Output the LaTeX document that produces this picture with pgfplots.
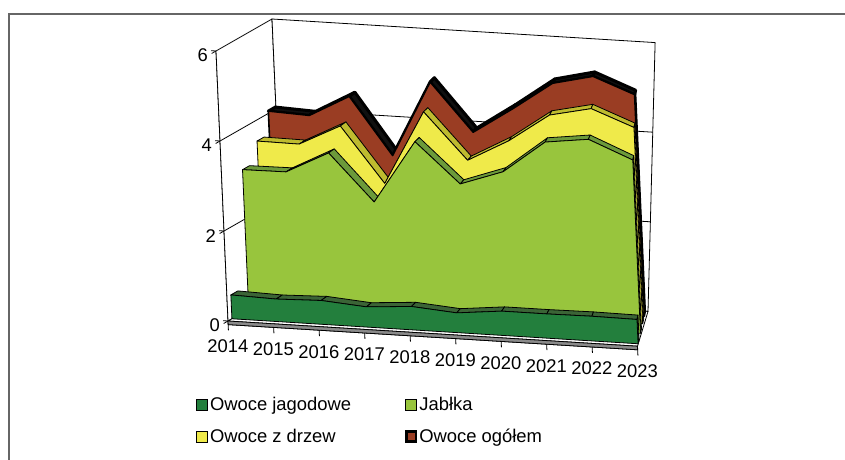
\documentclass[border=0pt]{standalone}
\usepackage{fontspec}
\setmainfont{Liberation Sans}
\usepackage{pgfplots}
\usepackage{pgfplotstable}
\pgfplotsset{compat=1.18}

\definecolor{jagF}{HTML}{237F3D}
\definecolor{jagT}{HTML}{3B6436}
\definecolor{jabF}{HTML}{98C53D}
\definecolor{jabT}{HTML}{6C9A3A}
\definecolor{drzF}{HTML}{EFEA4A}
\definecolor{drzT}{HTML}{BEBB2F}
\definecolor{ogoF}{HTML}{9A3D23}
\definecolor{ogoT}{HTML}{101010}
\definecolor{floorG}{HTML}{8A8A8A}
\definecolor{frameG}{HTML}{666666}

\pgfplotsset{
  colormap={cjag}{color=(jagT) color=(jagT)},
  colormap={cjab}{color=(jabT) color=(jabT)},
  colormap={cdrz}{color=(drzT) color=(drzT)},
  colormap={cogo}{color=(ogoT) color=(ogoT)},
}

% production, mln t (year index 0 = 2014)
\pgfplotstableread{
yr v
0 0.53
1 0.50
2 0.53
3 0.45
4 0.52
5 0.44
6 0.54
7 0.54
8 0.55
9 0.54
}\jagodowe
\pgfplotstableread{
yr v
0 3.10
1 3.11
2 3.59
3 2.56
4 3.96
5 3.08
6 3.41
7 4.13
8 4.25
9 3.85
}\jablka
\pgfplotstableread{
yr v
0 3.54
1 3.53
2 3.99
3 2.77
4 4.42
5 3.40
6 3.89
7 4.52
8 4.72
9 4.36
}\drzew
\pgfplotstableread{
yr v
0 4.05
1 4.01
2 4.49
3 3.23
4 4.92
5 3.86
6 4.44
7 5.06
8 5.27
9 4.92
}\ogolem

% two copies of each series: front and back edge of the ribbon top
\pgfplotstablevertcat{\jagodoweR}{\jagodowe}\pgfplotstablevertcat{\jagodoweR}{\jagodowe}
\pgfplotstablevertcat{\jablkaR}{\jablka}\pgfplotstablevertcat{\jablkaR}{\jablka}
\pgfplotstablevertcat{\drzewR}{\drzew}\pgfplotstablevertcat{\drzewR}{\drzew}
\pgfplotstablevertcat{\ogolemR}{\ogolem}\pgfplotstablevertcat{\ogolemR}{\ogolem}

\pgfplotstablegetelem{9}{v}\of\jagodowe\let\vA\pgfplotsretval
\pgfplotstablegetelem{9}{v}\of\jablka\let\vB\pgfplotsretval
\pgfplotstablegetelem{9}{v}\of\drzew\let\vC\pgfplotsretval
\pgfplotstablegetelem{9}{v}\of\ogolem\let\vD\pgfplotsretval

% depth rows and a mild foreshortening of the x extent with depth
\def\w{0.5}
\def\kfac{0.0293}
\def\dA{0.28}\def\dB{1.48}\def\dC{2.58}\def\dD{3.46}
\pgfmathsetmacro\rA{\dA+\w}\pgfmathsetmacro\rB{\dB+\w}
\pgfmathsetmacro\rC{\dC+\w}\pgfmathsetmacro\rD{\dD+\w}
\pgfmathsetmacro\kA{1-\kfac*\dA}\pgfmathsetmacro\kB{1-\kfac*\dB}
\pgfmathsetmacro\kC{1-\kfac*\dC}\pgfmathsetmacro\kD{1-\kfac*\dD}
\pgfmathsetmacro\eA{9*\kA}\pgfmathsetmacro\eB{9*\kB}
\pgfmathsetmacro\eC{9*\kC}\pgfmathsetmacro\eD{9*\kD}
\pgfmathsetmacro\fA{9*(1-\kfac*\rA)}\pgfmathsetmacro\fB{9*(1-\kfac*\rB)}
\pgfmathsetmacro\fC{9*(1-\kfac*\rC)}\pgfmathsetmacro\fD{9*(1-\kfac*\rD)}

\begin{document}
\begin{tikzpicture}
\useasboundingbox (0pt,0pt) rectangle (845pt,459pt);
\draw[frameG, line width=1.3pt] (9pt,-10pt) -- (9pt,445pt) -- (860pt,445pt);

\begin{axis}[
  at={(228pt,138pt)}, anchor=origin,
  x={(45.5pt,-2.8pt)}, y={(14pt,8pt)}, z={(-2pt,45pt)},
  xmin=0, xmax=9, ymin=0, ymax=4, zmin=-0.08, zmax=6,
  axis lines=left,
  axis line style={-, black, line width=0.8pt},
  y axis line style={draw=none},
  clip=false,
  xtick={0,1,2,3,4,5,6,7,8,9},
  xticklabels={2014,2015,2016,2017,2018,2019,2020,2021,2022,2023},
  ytick=\empty,
  ztick={0,2,4,6},
  tick align=outside,
  major tick length=5pt,
  tick style={black, line width=0.8pt},
  xtick style={draw=none},
  ticklabel style={font=\fontsize{18.4}{21}\selectfont},
  xticklabel style={anchor=north, yshift=-9pt, xshift=4pt},
  /pgf/number format/assume math mode=true,
  line join=round,
]
% walls and gridlines
\addplot3[forget plot, draw=black, fill=white, line width=0.8pt]
  coordinates {(0,0,0) (0,4,0) (0,4,6) (0,0,6)} -- cycle;
\addplot3[forget plot, draw=black, fill=white, line width=0.8pt]
  coordinates {(0,4,0) (8.0,4,0) (8.42,4,6) (0,4,6)} -- cycle;
\addplot3[forget plot, black, line width=0.8pt] coordinates {(0,0,2) (0,4,2) (8.14,4,2)};
\addplot3[forget plot, black, line width=0.8pt] coordinates {(0,0,4) (0,4,4) (8.28,4,4)};
\addplot3[forget plot, draw=black, fill=white, line width=0.8pt]
  coordinates {(0,0,0) (9,0,0) (8.0,4,0) (0,4,0)} -- cycle;

% Owoce ogolem
\addplot3[forget plot, surf, shader=faceted, faceted color=black, colormap name=cogo,
  line width=3pt, mesh/rows=2, mesh/cols=10]
  table[x expr={\thisrow{yr}*(1-\kfac*(\coordindex<10 ? \dD : \rD))},
        y expr={\coordindex<10 ? \dD : \rD}, z=v] {\ogolemR};
\addplot3[forget plot, fill=ogoT, draw=black, line width=1.2pt]
  coordinates {(\eD,\dD,0) (\eD,\dD,\vD) (\fD,\rD,\vD) (\fD,\rD,0)} -- cycle;
\addplot3[forget plot, fill=ogoF, draw=black, line width=1.6pt]
  table[x expr=\thisrow{yr}*\kD, y expr=\dD, z=v] {\ogolem}
  -- (axis cs:\eD,\dD,0) -- (axis cs:0,\dD,0) -- cycle;

% Owoce z drzew
\addplot3[forget plot, surf, shader=faceted, faceted color=black, colormap name=cdrz,
  line width=0.8pt, mesh/rows=2, mesh/cols=10]
  table[x expr={\thisrow{yr}*(1-\kfac*(\coordindex<10 ? \dC : \rC))},
        y expr={\coordindex<10 ? \dC : \rC}, z=v] {\drzewR};
\addplot3[forget plot, fill=drzT, draw=black, line width=0.8pt]
  coordinates {(\eC,\dC,0) (\eC,\dC,\vC) (\fC,\rC,\vC) (\fC,\rC,0)} -- cycle;
\addplot3[forget plot, fill=drzF, draw=black, line width=0.8pt]
  table[x expr=\thisrow{yr}*\kC, y expr=\dC, z=v] {\drzew}
  -- (axis cs:\eC,\dC,0) -- (axis cs:0,\dC,0) -- cycle;

% Jablka
\addplot3[forget plot, surf, shader=faceted, faceted color=black, colormap name=cjab,
  line width=0.8pt, mesh/rows=2, mesh/cols=10]
  table[x expr={\thisrow{yr}*(1-\kfac*(\coordindex<10 ? \dB : \rB))},
        y expr={\coordindex<10 ? \dB : \rB}, z=v] {\jablkaR};
\addplot3[forget plot, fill=jabT, draw=black, line width=0.8pt]
  coordinates {(\eB,\dB,0) (\eB,\dB,\vB) (\fB,\rB,\vB) (\fB,\rB,0)} -- cycle;
\addplot3[forget plot, fill=jabF, draw=black, line width=0.8pt]
  table[x expr=\thisrow{yr}*\kB, y expr=\dB, z=v] {\jablka}
  -- (axis cs:\eB,\dB,0) -- (axis cs:0,\dB,0) -- cycle;

% Owoce jagodowe
\addplot3[forget plot, surf, shader=faceted, faceted color=black, colormap name=cjag,
  line width=0.8pt, mesh/rows=2, mesh/cols=10]
  table[x expr={\thisrow{yr}*(1-\kfac*(\coordindex<10 ? \dA : \rA))},
        y expr={\coordindex<10 ? \dA : \rA}, z=v] {\jagodoweR};
\addplot3[forget plot, fill=jagT, draw=black, line width=0.8pt]
  coordinates {(\eA,\dA,0) (\eA,\dA,\vA) (\fA,\rA,\vA) (\fA,\rA,0)} -- cycle;
\addplot3[forget plot, fill=jagF, draw=black, line width=0.8pt]
  table[x expr=\thisrow{yr}*\kA, y expr=\dA, z=v] {\jagodowe}
  -- (axis cs:\eA,\dA,0) -- (axis cs:0,\dA,0) -- cycle;

% floor slab and category ticks
\addplot3[forget plot, fill=floorG, draw=black, line width=0.8pt]
  coordinates {(0,0,-0.08) (9,0,-0.08) (9,0,0) (0,0,0)} -- cycle;
\pgfplotsinvokeforeach{0,...,9}{
  \draw[black, line width=0.8pt] (axis cs:#1,0,-0.08) -- (axis cs:#1,0,-0.21);
}
\end{axis}

% legend
\begin{axis}[
  at={(0pt,0pt)}, anchor=south west, scale only axis,
  width=845pt, height=459pt,
  xmin=0, xmax=845, ymin=0, ymax=459,
  hide axis,
  legend columns=2,
  legend cell align=left,
  legend style={draw=none, fill=none, at={(axis cs:193,66)}, anchor=north west,
    font=\fontsize{18.4}{21}\selectfont, row sep=13pt,
    /tikz/every even column/.append style={column sep=52pt}},
]
\addlegendimage{legend image code/.code={\draw[fill=jagF, draw=black, line width=0.8pt] (0pt,-5.5pt) rectangle (11pt,5.5pt);}}
\addlegendentry{Owoce jagodowe}
\addlegendimage{legend image code/.code={\draw[fill=jabF, draw=black, line width=0.8pt] (0pt,-5.5pt) rectangle (11pt,5.5pt);}}
\addlegendentry{Jabłka}
\addlegendimage{legend image code/.code={\draw[fill=drzF, draw=black, line width=0.8pt] (0pt,-5.5pt) rectangle (11pt,5.5pt);}}
\addlegendentry{Owoce z drzew}
\addlegendimage{legend image code/.code={\draw[fill=ogoF, draw=black, line width=2.4pt] (0.6pt,-4.9pt) rectangle (10.4pt,4.9pt);}}
\addlegendentry{Owoce ogółem}
\end{axis}
\end{tikzpicture}
\end{document}
